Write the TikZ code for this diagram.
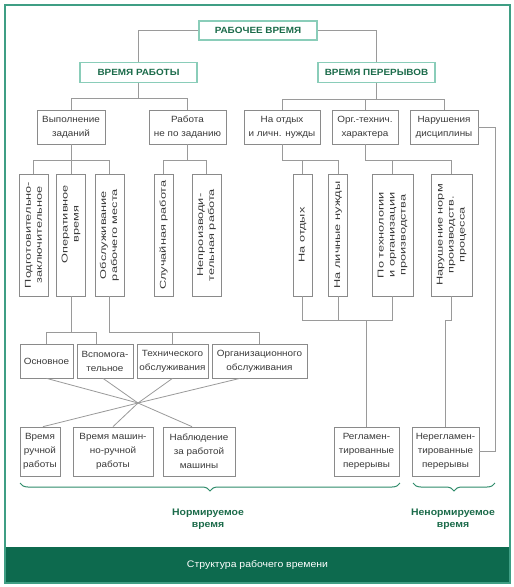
\documentclass[tikz,border=0pt]{standalone}
\usepackage{fontspec}
\setmainfont{Liberation Sans}
\newfontfamily\hfont[FakeStretch=1.1]{Liberation Sans}
\newfontfamily\vfont[FakeStretch=1.5]{Liberation Sans}
\usetikzlibrary{decorations.pathreplacing}
\definecolor{frameteal}{HTML}{3F9E84}
\definecolor{barcol}{HTML}{0D6A4E}
\definecolor{dgreen}{HTML}{1B6B4A}
\definecolor{lteal}{HTML}{8ACDB9}
\definecolor{boxgray}{HTML}{8A8A8A}
\definecolor{linegray}{HTML}{9A9A9A}
\definecolor{textgray}{HTML}{3A3A3A}
\definecolor{bracecol}{HTML}{2E8B6A}
\begin{document}
\begin{tikzpicture}[x=1pt,y=-1pt,
  box/.style={draw=boxgray, line width=0.7pt, fill=white, inner sep=1pt, align=center,
    font=\hfont\fontsize{9}{14}\selectfont, text=textgray},
  vbox/.style={box, rotate=90, minimum width=122pt, font=\vfont\fontsize{8.5}{11}\selectfont},
  topbox/.style={draw=lteal, line width=1.3pt, fill=white, inner sep=1pt,
    font=\hfont\bfseries\fontsize{9}{11}\selectfont, text=dgreen},
  conn/.style={draw=linegray, line width=0.8pt},
  lbl/.style={align=center, font=\hfont\bfseries\fontsize{9.5}{12}\selectfont, text=dgreen},
  bracestyle/.style={draw=bracecol, line width=1pt, decorate}
]
\useasboundingbox (0,0) rectangle (514,587);
\fill[white] (0,0) rectangle (514,587);
\fill[barcol] (5,547) rectangle (510,583);
\draw[frameteal, line width=1.2pt] (5,5) rectangle (510,583);
\node[font=\hfont\fontsize{9.5}{11}\selectfont, text=white] (cap) at (257.5,565) {Структура рабочего времени};

% coordinates for buses
\coordinate (wbus) at (0,98);
\coordinate (pbus) at (0,99);
\coordinate (bus3) at (0,160);
\coordinate (bus4) at (0,320);
\coordinate (bus5) at (0,332);
\coordinate (nrc) at (495,0);
\coordinate (xc) at (138,403);

% top level
\node[topbox, minimum width=118pt, minimum height=19pt] (top) at (258,30.5) {РАБОЧЕЕ ВРЕМЯ};
\node[topbox, minimum width=117pt, minimum height=20pt] (work) at (138.5,72.5) {ВРЕМЯ РАБОТЫ};
\node[topbox, minimum width=117pt, minimum height=20pt] (brk) at (376.5,72.5) {ВРЕМЯ ПЕРЕРЫВОВ};

% level 2
\node[box, minimum width=68pt, minimum height=34pt] (vyp) at (71,127) {Выполнение\\заданий};
\node[box, minimum width=77pt, minimum height=34pt] (rab) at (187.5,127) {Работа\\не по заданию};
\node[box, minimum width=76pt, minimum height=34pt] (otd) at (282,127) {На отдых\\и личн. нужды};
\node[box, minimum width=66pt, minimum height=34pt] (org) at (365,127) {Орг.-технич.\\характера};
\node[box, minimum width=68pt, minimum height=34pt] (nar) at (444,127) {Нарушения\\дисциплины};

% level 3 vertical
\node[vbox, minimum height=29pt] (p1) at (33.5,235) {Подготовительно-\\заключительное};
\node[vbox, minimum height=29pt, text width=116pt, align=right] (p2) at (71,235) {\begin{tabular}{@{}c@{}}Оперативное\\время\end{tabular}\hspace*{8pt}};
\node[vbox, minimum height=29pt] (p3) at (109.5,235) {Обслуживание\\рабочего места};
\node[vbox, minimum height=19pt] (p4) at (163.5,235) {Случайная работа};
\node[vbox, minimum height=29pt] (p5) at (206.5,235) {Непроизводи-\\тельная работа};
\node[vbox, minimum height=19pt] (r1) at (302.5,235) {На отдых};
\node[vbox, minimum height=19pt] (r2) at (338,235) {На личные нужды};
\node[vbox, minimum height=41pt] (r3) at (392.5,235) {По технологии\\и организации\\производства};
\node[vbox, minimum height=41pt] (r4) at (451.5,235) {Нарушение норм\\производств.\\процесса};

% middle row
\node[box, minimum width=53pt, minimum height=34pt] (m1) at (46.5,361) {Основное};
\node[box, minimum width=56pt, minimum height=34pt] (m2) at (105,361) {Вспомога-\\тельное};
\node[box, minimum width=71pt, minimum height=34pt] (m3) at (172.5,361) {Технического\\обслуживания};
\node[box, minimum width=95pt, minimum height=34pt] (m4) at (259.5,361) {Организационного\\обслуживания};

% bottom row
\node[box, minimum width=40pt, minimum height=49pt] (b1) at (40,451.5) {Время\\ручной\\работы};
\node[box, minimum width=80pt, minimum height=49pt] (b2) at (113,451.5) {Время машин-\\но-ручной\\работы};
\node[box, minimum width=72pt, minimum height=49pt] (b3) at (199,451.5) {Наблюдение\\за работой\\машины};
\node[box, minimum width=65pt, minimum height=49pt] (reg) at (366.5,451.5) {Регламен-\\тированные\\перерывы};
\node[box, minimum width=67pt, minimum height=49pt] (nreg) at (445.5,451.5) {Нерегламен-\\тированные\\перерывы};

% connectors
\draw[conn] (top.west) -| (work.north);
\draw[conn] (top.east) -| (brk.north);
\draw[conn] (work.south) -- (work.south |- wbus);
\draw[conn] (vyp.north) -- (vyp.north |- wbus) -- (rab.north |- wbus) -- (rab.north);
\draw[conn] (brk.south) -- (brk.south |- pbus);
\draw[conn] (otd.north) -- (otd.north |- pbus) -- (nar.north |- pbus) -- (nar.north);
\draw[conn] (org.north) -- (org.north |- pbus);

\draw[conn] (vyp.south) -- (vyp.south |- bus3);
\draw[conn] (p1.east) -- (p1.east |- bus3) -- (p3.east |- bus3) -- (p3.east);
\draw[conn] (p2.east) -- (p2.east |- bus3);
\draw[conn] (rab.south) -- (rab.south |- bus3);
\draw[conn] (p4.east) -- (p4.east |- bus3) -- (p5.east |- bus3) -- (p5.east);
\draw[conn] (otd.south) -- (otd.south |- bus3) -- (r2.east |- bus3) -- (r2.east);
\draw[conn] (r1.east) -- (r1.east |- bus3);
\draw[conn] (org.south) -- (org.south |- bus3) -- (r4.east |- bus3) -- (r4.east);
\draw[conn] (r3.east) -- (r3.east |- bus3);

\draw[conn] (nar.east) -- (nar.east -| nrc) -- (nreg.east -| nrc) -- (nreg.east);

\draw[conn] (r1.west) -- (r1.west |- bus4) -- (r3.west |- bus4) -- (r3.west);
\draw[conn] (r2.west) -- (r2.west |- bus4);
\draw[conn] (reg.north) -- (reg.north |- bus4);
\draw[conn] (r4.west) -- (r4.west |- bus4) -| (nreg.north);

\draw[conn] (p2.west) -- (p2.west |- bus5);
\draw[conn] (m1.north) -- (m1.north |- bus5) -- ([xshift=-9pt]m2.north |- bus5) -- ([xshift=-9pt]m2.north);
\draw[conn] (p3.west) -- (p3.west |- bus5) -- (m4.north |- bus5) -- (m4.north);
\draw[conn] (m3.north) -- (m3.north |- bus5);

\draw[conn] (m1.south) -- (xc);
\draw[conn] ([xshift=-2pt]m2.south) -- (xc);
\draw[conn] (m3.south) -- (xc);
\draw[conn] ([xshift=-19.5pt]m4.south) -- (xc);
\draw[conn] (xc) -- ([xshift=3pt]b1.north);
\draw[conn] (xc) -- (b2.north);
\draw[conn] (xc) -- ([xshift=-7pt]b3.north);

% braces
\draw[bracestyle, decoration={brace, mirror, amplitude=8pt}] (20,483) -- (400,483);
\draw[bracestyle, decoration={brace, mirror, amplitude=8pt}] (413,483) -- (495,483);
\node[lbl] (nt) at (208,519) {Нормируемое\\время};
\node[lbl] (nnt) at (453,519) {Ненормируемое\\время};
\end{tikzpicture}
\end{document}
